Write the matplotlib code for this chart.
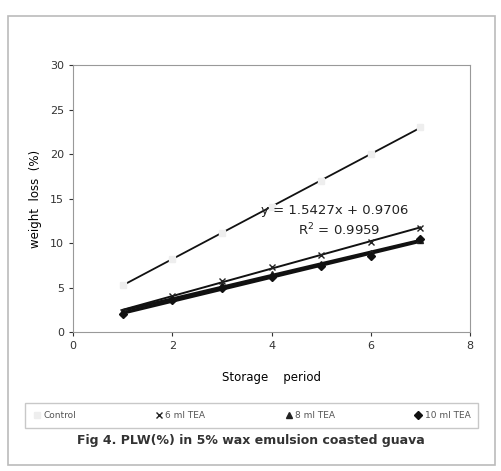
import matplotlib.pyplot as plt
import numpy as np

# storage period (days) and weight loss (%)
days = np.array([1, 2, 3, 4, 5, 6, 7])
control = np.array([5.3, 8.2, 11.1, 14.1, 17.0, 20.0, 23.0])
tea6 = np.array([2.3, 4.1, 5.7, 7.3, 8.7, 10.1, 11.7])
tea8 = np.array([2.2, 3.8, 5.3, 6.5, 7.6, 8.9, 10.3])
tea10 = np.array([2.0, 3.6, 5.0, 6.2, 7.4, 8.5, 10.5])
labels = ["Control", "6 ml TEA", "8 ml TEA", "10 ml TEA"]

fig = plt.figure(figsize=(5.01, 4.71), dpi=100)

# outer frame
frame = plt.Rectangle((0.016, 0.012), 0.972, 0.955, transform=fig.transFigure,
                      fill=False, edgecolor="#bbbbbb", linewidth=1.2)
fig.patches.append(frame)

ax = fig.add_axes([0.146, 0.295, 0.792, 0.567])

series = [control, tea6, tea8, tea10]
markers = ["s", "x", "^", "D"]
mcolors = ["#eeeeee", "#222222", "#222222", "#111111"]
lws = [1.3, 1.4, 2.0, 2.4]
handles = []
for s, m, mc, lw, lab in zip(series, markers, mcolors, lws, labels):
    k, b = np.polyfit(days, s, 1)
    ax.plot(days, k * days + b, color="#111111", linewidth=lw, zorder=2)
    h, = ax.plot(days, s, linestyle="none", marker=m, markersize=4,
                 color=mc, markeredgecolor=mc, zorder=3, label=lab)
    handles.append(h)

ax.text(5.28, 13.3, "y = 1.5427x + 0.9706", fontsize=9.5, color="#222222",
        ha="center")
ax.text(5.35, 10.9, "R$^2$ = 0.9959", fontsize=9.5, color="#222222", ha="center")

ax.set_xlim(0, 8)
ax.set_ylim(0, 30)
ax.set_xticks([0, 2, 4, 6, 8])
ax.set_yticks([0, 5, 10, 15, 20, 25, 30])
ax.tick_params(labelsize=8, colors="#333333", length=3)
for sp in ax.spines.values():
    sp.set_color("#999999")

ax.set_ylabel("weight  loss  (%)", fontsize=8.5, labelpad=6)
ax.set_xlabel("Storage    period", fontsize=8.5, labelpad=14)

fig.legend(handles=handles, labels=labels, loc="lower left",
           bbox_to_anchor=(0.05, 0.091, 0.905, 0.06), mode="expand",
           ncol=4, fontsize=6.5, borderaxespad=0,
           frameon=True, fancybox=False, edgecolor="#bbbbbb",
           handlelength=0.8, handletextpad=0.3, borderpad=0.9,
           labelcolor="#555555")

fig.text(0.5, 0.058, "Fig 4. PLW(%) in 5% wax emulsion coasted guava",
         ha="center", fontsize=9, fontweight="bold", color="#333333")

fig.savefig("out.png", dpi=100)
